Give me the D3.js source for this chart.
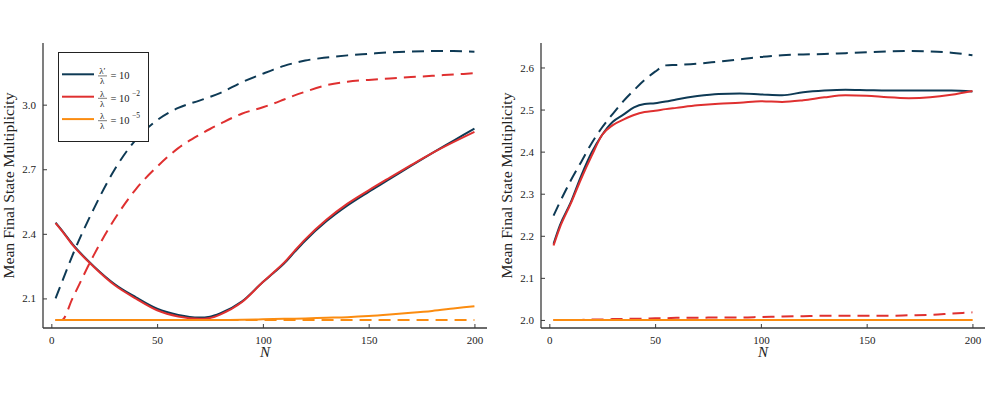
<!DOCTYPE html>
<html>
<head>
<meta charset="utf-8">
<script src="https://cdn.jsdelivr.net/npm/d3@7"></script>
<style>
    body { margin: 0; background: #fff; }
    svg text { font-family: "Liberation Serif", "DejaVu Serif", serif; fill: #222; }
</style>
</head>
<body>
<svg id="chart" width="995" height="398"></svg>
<script>
// N values per panel
const nLeft = [2, 5, 10, 20, 30, 40, 50, 60, 70, 75, 80, 90, 100, 105, 110, 115, 120, 130, 140, 150, 160, 170, 180, 190, 200];
const nRight = [2, 5, 10, 15, 20, 25, 30, 35, 40, 45, 50, 55, 60, 70, 80, 90, 100, 110, 120, 130, 140, 150, 160, 170, 180, 190, 200];

// left panel
const leftNavySolid = [2.452, 2.416, 2.352, 2.250, 2.166, 2.105, 2.052, 2.023, 2.011, 2.015, 2.031, 2.085, 2.176, 2.218, 2.262, 2.316, 2.368, 2.458, 2.532, 2.595, 2.655, 2.716, 2.775, 2.832, 2.889];
const leftRedSolid = [2.450, 2.414, 2.349, 2.247, 2.161, 2.099, 2.045, 2.016, 2.005, 2.009, 2.026, 2.082, 2.176, 2.220, 2.266, 2.321, 2.374, 2.465, 2.540, 2.602, 2.661, 2.719, 2.775, 2.826, 2.874];
const leftOrangeSolid = [2.0, 2.0, 2.0, 2.0, 2.0, 2.0, 2.0, 2.0, 2.0, 2.0, 2.0, 2.001, 2.003, 2.004, 2.005, 2.006, 2.007, 2.010, 2.013, 2.018, 2.025, 2.033, 2.042, 2.053, 2.064];
const leftNavyDashed = [2.100, 2.175, 2.300, 2.515, 2.700, 2.838, 2.928, 2.985, 3.019, 3.036, 3.055, 3.104, 3.144, 3.163, 3.180, 3.194, 3.205, 3.219, 3.229, 3.236, 3.243, 3.247, 3.249, 3.249, 3.246];
const leftRedDashed = [2.0, 2.0, 2.100, 2.300, 2.470, 2.608, 2.712, 2.798, 2.860, 2.887, 2.912, 2.958, 2.988, 3.005, 3.024, 3.043, 3.060, 3.090, 3.107, 3.115, 3.122, 3.128, 3.134, 3.140, 3.146];
const leftOrangeDashed = [2.0, 2.0, 2.0, 2.0, 2.0, 2.0, 2.0, 2.0, 2.0, 2.0, 2.0, 2.0, 2.0, 2.0, 2.0, 2.0, 2.0, 2.0, 2.0, 2.0, 2.0, 2.0, 2.0, 2.0, 2.0];

// right panel
const rightNavySolid = [2.181, 2.225, 2.278, 2.342, 2.398, 2.440, 2.471, 2.488, 2.505, 2.513, 2.515, 2.519, 2.524, 2.532, 2.537, 2.538, 2.536, 2.534, 2.541, 2.545, 2.547, 2.546, 2.545, 2.545, 2.545, 2.545, 2.543];
const rightRedSolid = [2.177, 2.220, 2.275, 2.335, 2.390, 2.440, 2.463, 2.476, 2.487, 2.494, 2.497, 2.501, 2.504, 2.510, 2.514, 2.516, 2.520, 2.518, 2.522, 2.529, 2.534, 2.533, 2.529, 2.527, 2.529, 2.535, 2.544];
const rightOrangeSolid = [2.0, 2.0, 2.0, 2.0, 2.0, 2.0, 2.0, 2.0, 2.0, 2.0, 2.0, 2.0, 2.0, 2.0, 2.0, 2.0, 2.0, 2.0, 2.0, 2.0, 2.0, 2.0, 2.0, 2.0, 2.0, 2.0, 2.0];
const rightNavyDashed = [2.248, 2.280, 2.330, 2.375, 2.420, 2.458, 2.490, 2.520, 2.546, 2.570, 2.590, 2.605, 2.606, 2.609, 2.614, 2.619, 2.625, 2.629, 2.631, 2.632, 2.634, 2.636, 2.638, 2.639, 2.638, 2.635, 2.629];
const rightRedDashed = [2.0, 2.0, 2.0, 2.0, 2.001, 2.001, 2.002, 2.002, 2.003, 2.003, 2.004, 2.004, 2.005, 2.005, 2.006, 2.006, 2.007, 2.008, 2.009, 2.010, 2.010, 2.010, 2.010, 2.011, 2.012, 2.015, 2.018];
const rightOrangeDashed = [2.0, 2.0, 2.0, 2.0, 2.0, 2.0, 2.0, 2.0, 2.0, 2.0, 2.0, 2.0, 2.0, 2.0, 2.0, 2.0, 2.0, 2.0, 2.0, 2.0, 2.0, 2.0, 2.0, 2.0, 2.0, 2.0, 2.0];

const xTicks = [0, 50, 100, 150, 200];
const leftYTicks = [2.1, 2.4, 2.7, 3.0];
const rightYTicks = [2.0, 2.1, 2.2, 2.3, 2.4, 2.5, 2.6];

const legendExponents = ['', '−2', '−5'];
const legendNumerators = ['λ′', 'λ', 'λ'];

const navy = '#0e3a55';
const red = '#df3030';
const orange = '#fb8c10';
const axisColor = '#3a3a3a';

const svg = d3.select('#chart');

function padded(lo, hi) {
    const p = (hi - lo) * 0.03;
    return [lo - p, hi + p];
}

function drawPanel(opts) {
    const x = d3.scaleLinear()
                .domain(padded(d3.min(opts.n), d3.max(opts.n)))
                .range([opts.left, opts.right]);
    const all = opts.series.flatMap(s => s.values);
    const y = d3.scaleLinear()
                .domain(padded(d3.min(all), d3.max(all)))
                .range([opts.bottom, opts.top]);

    const g = svg.append('g');

    // axes (ticks point inward)
    const xAxis = g.append('g')
        .attr('transform', 'translate(0,' + opts.bottom + ')')
        .call(d3.axisBottom(x).tickValues(xTicks).tickSize(-4).tickPadding(8).tickFormat(d3.format('d')));
    const yAxis = g.append('g')
        .attr('transform', 'translate(' + opts.left + ',0)')
        .call(d3.axisLeft(y).tickValues(opts.yTicks).tickSize(-4).tickPadding(7).tickFormat(d3.format('.1f')));
    [xAxis, yAxis].forEach(a => {
        a.select('.domain').attr('stroke', axisColor).attr('stroke-width', 1.3);
        a.selectAll('.tick line').attr('stroke', axisColor);
        a.selectAll('.tick text').attr('font-size', 11).attr('fill', '#222')
            .style('font-family', '"Liberation Serif", serif');
    });
    xAxis.select('.domain').attr('d', 'M' + opts.left + ',0H' + opts.right);
    yAxis.select('.domain').attr('d', 'M0,' + opts.top + 'V' + opts.bottom);

    const line = d3.line()
                   .x((d, i) => x(opts.n[i]))
                   .y(d => y(d))
                   .curve(d3.curveMonotoneX);

    opts.series.forEach(s => {
        g.append('path')
            .attr('d', line(s.values))
            .attr('fill', 'none')
            .attr('stroke', s.color)
            .attr('stroke-width', 2)
            .attr('stroke-dasharray', s.dashed ? '12,7' : null);
    });

    // axis labels
    const cx = (opts.left + opts.right) / 2;
    g.append('text')
        .attr('x', cx).attr('y', 357)
        .attr('text-anchor', 'middle')
        .attr('font-size', 15)
        .attr('font-style', 'italic')
        .text('N');
    g.append('text')
        .attr('transform', 'translate(' + (opts.left - 29) + ',' + ((opts.top + opts.bottom) / 2) + ') rotate(-90)')
        .attr('text-anchor', 'middle')
        .attr('font-size', 15.5)
        .attr('textLength', 186)
        .attr('lengthAdjust', 'spacingAndGlyphs')
        .text('Mean Final State Multiplicity');
}

drawPanel({
    left: 43, right: 487, top: 43, bottom: 328,
    n: nLeft, yTicks: leftYTicks,
    series: [
        { values: leftNavySolid, color: navy },
        { values: leftNavyDashed, color: navy, dashed: true },
        { values: leftRedSolid, color: red },
        { values: leftRedDashed, color: red, dashed: true },
        { values: leftOrangeSolid, color: orange },
        { values: leftOrangeDashed, color: orange, dashed: true }
    ]
});

drawPanel({
    left: 541, right: 985, top: 43, bottom: 328,
    n: nRight, yTicks: rightYTicks,
    series: [
        { values: rightNavySolid, color: navy },
        { values: rightNavyDashed, color: navy, dashed: true },
        { values: rightRedSolid, color: red },
        { values: rightRedDashed, color: red, dashed: true },
        { values: rightOrangeSolid, color: orange },
        { values: rightOrangeDashed, color: orange, dashed: true }
    ]
});

// legend
const legend = svg.append('g');
legend.append('rect')
    .attr('x', 58.5).attr('y', 52.5).attr('width', 90).attr('height', 89)
    .attr('fill', '#fff').attr('stroke', '#222').attr('stroke-width', 1);

[navy, red, orange].forEach((c, i) => {
    const ly = 74.3 + i * 22.4;
    const row = legend.append('g');
    row.append('line')
        .attr('x1', 62).attr('x2', 94).attr('y1', ly).attr('y2', ly)
        .attr('stroke', c).attr('stroke-width', 2);
    const bar = ly + 1.6;
    row.append('text')
        .attr('x', 102.3).attr('y', bar - 1.8)
        .attr('text-anchor', 'middle').attr('font-size', 9)
        .text(legendNumerators[i]);
    row.append('line')
        .attr('x1', 98).attr('x2', 107).attr('y1', bar).attr('y2', bar)
        .attr('stroke', '#222').attr('stroke-width', 0.6);
    row.append('text')
        .attr('x', 102.3).attr('y', bar + 8.5)
        .attr('text-anchor', 'middle').attr('font-size', 9)
        .text('λ');
    row.append('text')
        .attr('x', 110.5).attr('y', bar + 3.2)
        .attr('font-size', 10.5)
        .text('= 10');
    if (legendExponents[i]) {
        row.append('text')
            .attr('x', 132).attr('y', bar - 2.5)
            .attr('font-size', 7.5)
            .text(legendExponents[i]);
    }
});
</script>
</body>
</html>
